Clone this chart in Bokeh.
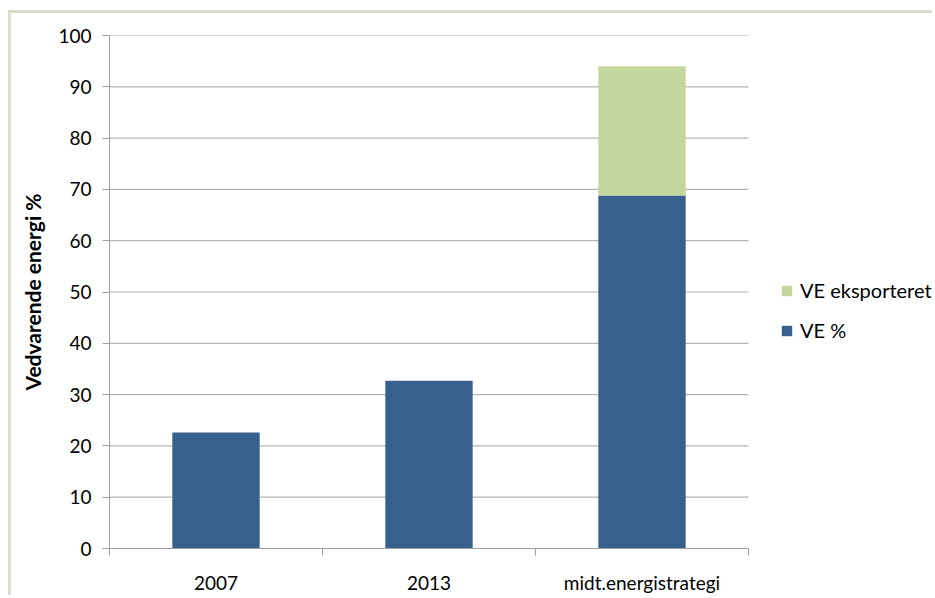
from bokeh.plotting import figure
from bokeh.models import FixedTicker, Range1d, Legend, LegendItem, ColumnDataSource
from bokeh.embed import file_html
from bokeh.resources import INLINE

# Data
categories = ["2007", "2013", "midt.energistrategi"]
ve_pct = [22.6, 32.7, 68.8]
ve_export = [0.0, 0.0, 25.2]
y_ticks = [0, 10, 20, 30, 40, 50, 60, 70, 80, 90, 100]
series_names = ["VE %", "VE eksporteret"]
series_colors = ["#37608f", "#c4d69c"]

n = len(categories)
xpos = [i + 0.5 for i in range(n)]
source = ColumnDataSource(dict(x=xpos, cat=categories, ve_pct=ve_pct, ve_export=ve_export))

FONT = "Lato"

# layout: frame spans 826 px, of which the categories use 639 px; the rest holds the legend
FRAME_W = 826
CAT_W = 639
x_end = n * FRAME_W / CAT_W

p = figure(width=924, height=585,
           x_range=Range1d(0, x_end), y_range=Range1d(0, 100),
           output_backend="svg", toolbar_location=None,
           min_border_left=98, min_border_right=0, min_border_top=22, min_border_bottom=50,
           styles={"border-left": "3px solid #dcdccc", "border-top": "3px solid #dcdccc",
                   "margin-top": "10px", "margin-left": "8px"})
p.outline_line_color = None
p.background_fill_color = "white"
p.border_fill_color = "white"

# horizontal gridlines limited to the category area
p.xgrid.visible = False
p.ygrid.visible = False
p.segment(x0=0, x1=n, y0=y_ticks, y1=y_ticks, line_color="#b4b4b4", line_width=1.2)

renderers = p.vbar_stack(["ve_pct", "ve_export"], x="x", width=0.41, source=source,
                         color=series_colors, line_color=None)

# Y axis
p.yaxis.ticker = FixedTicker(ticks=y_ticks)
p.yaxis.axis_line_color = "#a0a0a0"
p.yaxis.major_tick_line_color = "#a0a0a0"
p.yaxis.major_tick_in = 0
p.yaxis.major_tick_out = 7
p.yaxis.minor_tick_line_color = None
p.yaxis.major_label_text_font = FONT
p.yaxis.major_label_text_font_size = "19px"
p.yaxis.major_label_text_color = "black"
p.yaxis.major_label_standoff = 11
p.yaxis.axis_label = "Vedvarende energi %"
p.yaxis.axis_label_text_font = FONT
p.yaxis.axis_label_text_font_style = "bold"
p.yaxis.axis_label_text_font_size = "21px"
p.yaxis.axis_label_text_color = "black"
p.yaxis.axis_label_standoff = 10

# X axis
p.xaxis.bounds = (0, n)
p.xaxis.ticker = FixedTicker(ticks=xpos, minor_ticks=list(range(n + 1)))
p.xaxis.major_label_overrides = {x: c for x, c in zip(xpos, categories)}
p.xaxis.axis_line_color = "#a0a0a0"
p.xaxis.major_tick_line_color = None
p.xaxis.major_tick_in = 0
p.xaxis.major_tick_out = 0
p.xaxis.minor_tick_line_color = "#a0a0a0"
p.xaxis.minor_tick_in = 0
p.xaxis.minor_tick_out = 7
p.xaxis.major_label_text_font = FONT
p.xaxis.major_label_text_font_size = "19px"
p.xaxis.major_label_text_color = "black"
p.xaxis.major_label_standoff = 15

legend = Legend(items=[LegendItem(label=series_names[1], renderers=[renderers[1]]),
                       LegendItem(label=series_names[0], renderers=[renderers[0]])],
                location=(671, 206), orientation="vertical")
legend.border_line_color = None
legend.background_fill_alpha = 0
legend.padding = 0
legend.margin = 0
legend.glyph_width = 13
legend.glyph_height = 13
legend.label_height = 24
legend.spacing = 16
legend.label_standoff = 7
legend.label_text_font = FONT
legend.label_text_font_size = "20px"
legend.label_text_color = "black"
legend.label_text_baseline = "middle"
p.add_layout(legend, "center")

open("out.html", "w").write(file_html(p, INLINE))
